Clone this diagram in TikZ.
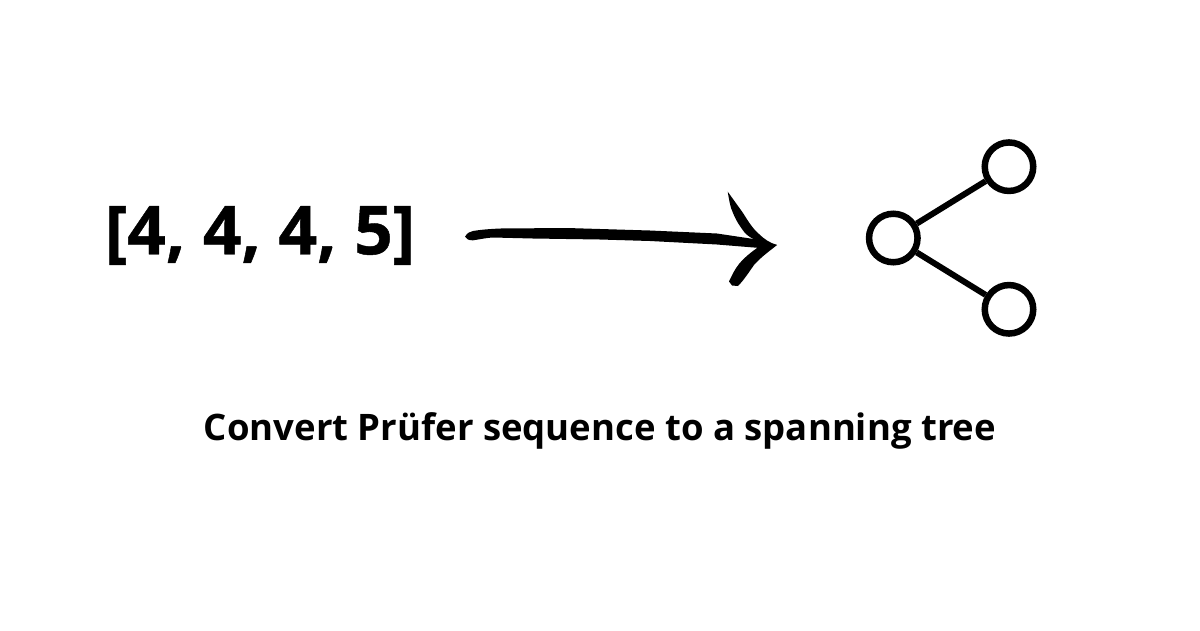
\documentclass[tikz,border=0pt]{standalone}
\usepackage{fontspec}
\setmainfont{Open Sans}
\newfontfamily\heavyfont[UprightFont={* Bold},FakeBold=0.7]{Open Sans}
\begin{document}
\begin{tikzpicture}[x=1pt,y=-1pt,
  treenode/.style={circle,draw=black,line width=6.5pt,minimum size=48.5pt,inner sep=0pt,fill=white},
  treeedge/.style={line width=6pt,black},
  seqtext/.style={font=\heavyfont\fontsize{67.5}{80}\selectfont,text=black,inner sep=0pt,anchor=center},
  captext/.style={font=\bfseries\fontsize{36.5}{44}\selectfont,text=black,inner sep=0pt,anchor=center}]
\useasboundingbox (0,0) rectangle (1200,630);
\fill[white] (0,0) rectangle (1200,630);
\node[seqtext] (seq) at (260,235.5) {[4, 4, 4, 5]};
\node[captext] (cap) at (600,430.5) {Convert Prüfer sequence to a spanning tree};
\node[treenode] (r) at (893.3,238) {};
\node[treenode] (a) at (1009,166.7) {};
\node[treenode] (b) at (1009,309.3) {};
\draw[treeedge] (r) -- (a);
\draw[treeedge] (r) -- (b);
\fill[black] (465,236.7) .. controls (467,233) and (470,231.5) .. (473,231)
 .. controls (482,229.5) and (490,229) .. (500,228.5)
 -- (567,228) -- (650,230.5) -- (717,233.5) -- (757,239.5) -- (777,245) -- (760,248)
 -- (717,244.5) -- (650,241) -- (600,239.5) -- (533,238.5) -- (493,237.5)
 .. controls (485,238) and (479,239.5) .. (473,240.3)
 .. controls (469,240.5) and (466,239) .. (465,236.7) -- cycle;
\fill[black] (727.7,191.7) .. controls (733,199) and (738,206) .. (743,213)
 .. controls (748,221) and (753,229) .. (759,234)
 .. controls (764,239) and (770,243) .. (777,245)
 .. controls (771,250) and (762,256) .. (754,265)
 .. controls (749,272) and (744,280) .. (738,286)
 -- (732,285.5) -- (729,281.5)
 .. controls (732,275) and (735,269) .. (739,264)
 .. controls (744,258) and (751,252) .. (760,246)
 -- (757,241)
 .. controls (751,238) and (748,236) .. (745,233)
 .. controls (738,224) and (735,218) .. (733,213)
 .. controls (730,207) and (729,199) .. (727.7,191.7) -- cycle;
\end{tikzpicture}
\end{document}
